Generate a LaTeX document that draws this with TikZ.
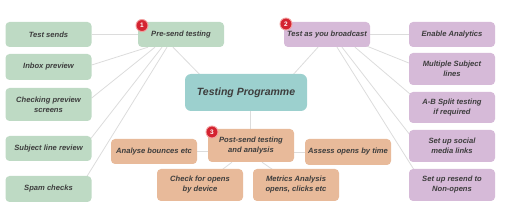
\documentclass[tikz,border=0pt]{standalone}
\usepackage{fontspec}
\setmainfont{Liberation Sans}
\usetikzlibrary{calc,backgrounds}
\definecolor{gfill}{HTML}{BEDAC4}
\definecolor{pfill}{HTML}{D6BAD8}
\definecolor{ofill}{HTML}{E8BA9A}
\definecolor{tfill}{HTML}{9CD0CE}
\definecolor{linec}{HTML}{DCDCDC}
\definecolor{txt}{HTML}{3D3D3D}
\definecolor{badgec}{HTML}{D42330}
\definecolor{badger}{HTML}{F2A0A0}
\tikzset{
  box/.style={rectangle, rounded corners=4pt, minimum width=86pt, inner sep=1pt,
    align=center, text=txt, font=\fontsize{7.6}{10}\selectfont\bfseries\itshape},
  gbox/.style={box, fill=gfill},
  pbox/.style={box, fill=pfill},
  obox/.style={box, fill=ofill},
  link/.style={draw=linec, line width=0.8pt},
  badge/.style={circle, fill=badgec, draw=badger, line width=0.9pt, minimum size=12pt, inner sep=0pt,
    text=white, font=\fontsize{6.5}{6.5}\selectfont\bfseries}
}
\begin{document}
\begin{tikzpicture}[x=1pt,y=-1pt]
\useasboundingbox (0,0) rectangle (506,216);
% left column
\node[gbox, minimum height=25pt] (ts) at (48.5,34.5) {Test sends};
\node[gbox, minimum height=26pt] (ip) at (48.5,67) {Inbox preview};
\node[gbox, minimum height=33pt] (cp) at (48.5,104.5) {Checking preview\\screens};
\node[gbox, minimum height=25pt] (sl) at (48.5,148.5) {Subject line review};
\node[gbox, minimum height=26pt] (sc) at (48.5,189) {Spam checks};
% top branches
\node[gbox, minimum height=25pt] (ps) at (181,34.5) {Pre-send testing};
\node[pbox, minimum height=25pt] (tb) at (327,34.5) {Test as you broadcast};
% right column
\node[pbox, minimum height=25pt] (ea) at (452,34.5) {Enable Analytics};
\node[pbox, minimum height=32pt] (ms) at (452,69) {Multiple Subject\\lines};
\node[pbox, minimum height=31pt] (ab) at (452,107.5) {A-B Split testing\\if required};
\node[pbox, minimum height=32pt] (sm) at (452,146) {Set up social\\media links};
\node[pbox, minimum height=32pt] (rs) at (452,185) {Set up resend to\\Non-opens};
% centre
\node[box, fill=tfill, minimum width=122pt, minimum height=37pt, rounded corners=6pt,
  font=\fontsize{10.5}{12}\selectfont\bfseries\itshape] (tp) at (246,92.5) {Testing Programme};
\node[obox, minimum height=33pt] (pa) at (251,145.5) {Post-send testing\\and analysis};
\node[obox, minimum height=25pt] (anb) at (154,151.5) {Analyse bounces etc};
\node[obox, minimum height=26pt] (ao) at (348,152) {Assess opens by time};
\node[obox, minimum height=32pt] (co) at (200,185) {Check for opens\\by device};
\node[obox, minimum height=32pt] (ma) at (296,185) {Metrics Analysis\\opens, clicks etc};
% badges
\node[badge] (b1) at (142,25.5) {1};
\node[badge] (b2) at (286,24) {2};
\node[badge] (b3) at (212,132) {3};
\begin{pgfonlayer}{background}
  \draw[link] (ps.west) -- (ts.east);
  \draw[link] ($(ps.south)+(-33,0)$) -- ($(ip.east)+(0,-2)$);
  \draw[link] ($(ps.south)+(-26,0)$) -- ($(cp.east)+(0,-6.5)$);
  \draw[link] ($(ps.south)+(-19,0)$) -- ($(sl.east)+(-2,-8.5)$);
  \draw[link] ($(ps.south)+(-14,0)$) -- ($(sc.east)+(-7,-9)$);
  \draw[link] ($(ps.south)+(-8,0)$) -- ($(tp.north)+(-46,1)$);
  \draw[link] ($(tb.south)+(-9,0)$) -- ($(tp.north)+(47,1)$);
  \draw[link] (tb.east) -- (ea.west);
  \draw[link] ($(tb.south)+(40,-1)$) -- ($(ms.west)+(0,-6)$);
  \draw[link] ($(tb.south)+(28,0)$) -- ($(ab.west)+(3,-12)$);
  \draw[link] ($(tb.south)+(15,0)$) -- ($(sm.west)+(2,-10)$);
  \draw[link] ($(tb.south)+(10,0)$) -- ($(rs.west)+(6,-14)$);
  \draw[link] ($(tp.south)+(4,0)$) -- ($(pa.north)+(-1,0)$);
  \draw[link] (anb.east) -- (anb.east -| pa.west);
  \draw[link] (ao.west) -- (ao.west -| pa.east);
  \draw[link] ($(pa.south)+(-19,0)$) -- ($(co.north)+(22,1)$);
  \draw[link] ($(pa.south)+(11,0)$) -- ($(ma.north)+(-23,1)$);
\end{pgfonlayer}
\end{tikzpicture}
\end{document}
